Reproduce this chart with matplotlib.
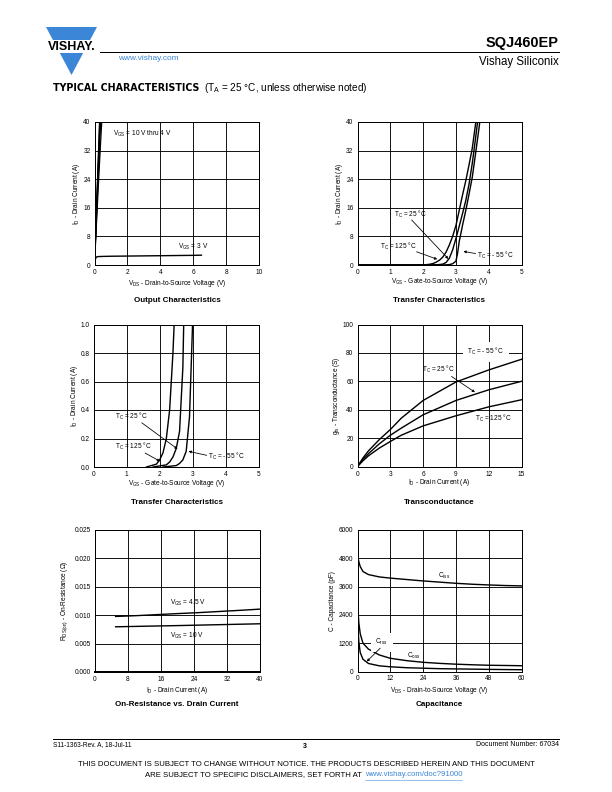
# SQJ460EP typical characteristics page (datasheet p.3)

import matplotlib.pyplot as plt
from matplotlib.patches import Polygon, Rectangle

plt.rcParams['font.family'] = ['Liberation Sans', 'DejaVu Sans']
plt.rcParams['mathtext.fontset'] = 'custom'
plt.rcParams['mathtext.rm'] = 'Liberation Sans'
plt.rcParams['mathtext.it'] = 'Liberation Sans:italic'
plt.rcParams['mathtext.bf'] = 'Liberation Sans:bold'

# Step 1: data

# Output characteristics
vds_out = [0.0, 0.1, 0.2, 0.3, 0.4, 0.5]
id_vgs10 = [0, 13.2, 26.4, 39.5, 52.0, 64.0]
id_vgs7 = [0, 12.6, 25.0, 37.4, 49.5, 61.0]
id_vgs5 = [0, 11.8, 23.4, 34.8, 46.0, 57.0]
id_vgs45 = [0, 11.0, 21.8, 32.4, 42.8, 52.8]
id_vgs4 = [0, 9.6, 19.0, 28.0, 36.6, 44.8]
vds_3v = [0, 0.05, 0.1, 0.2, 0.5, 1, 2, 3, 4, 5, 6, 6.5]
id_vgs3 = [0, 1.5, 2.2, 2.35, 2.4, 2.45, 2.5, 2.55, 2.6, 2.65, 2.7, 2.75]

# Transfer characteristics (same curves used for both scales)
vgs_125 = [0, 1.6, 1.9, 2.0, 2.1, 2.2, 2.3, 2.4, 2.5, 2.6, 2.7, 2.8, 2.9,
           3.0, 3.1, 3.2, 3.3, 3.4, 3.5, 3.6, 3.7]
id_125 = [0, 0, 0.02, 0.05, 0.1, 0.2, 0.4, 0.8, 1.35, 2.2, 3.6, 5.6, 8.0,
          11.0, 15.2, 19.5, 23.5, 28.0, 32.7, 39.5, 46]
vgs_25 = [0, 1.8, 2.2, 2.3, 2.4, 2.5, 2.6, 2.7, 2.8, 2.9, 3.0, 3.1, 3.2,
          3.3, 3.4, 3.5, 3.6, 3.7, 3.8]
id_25 = [0, 0, 0.015, 0.035, 0.07, 0.13, 0.25, 0.7, 1.9, 4.2, 7.4, 10.8,
         14.3, 18.0, 22.6, 28.5, 35.5, 43, 50]
vgs_m55 = [0, 2.1, 2.5, 2.6, 2.7, 2.8, 2.9, 3.0, 3.05, 3.1, 3.2, 3.3, 3.4,
           3.5, 3.6, 3.7, 3.8]
id_m55 = [0, 0, 0.01, 0.025, 0.05, 0.11, 0.35, 1.05, 3.2, 6.5, 11.0, 15.2,
          19.8, 24.6, 31.2, 38.0, 45]

# Transconductance
id_gfs = [0, 0.5, 1, 2, 3, 4, 6, 9, 12, 15]
gfs_m55 = [0, 6, 11, 19, 26, 34, 46.5, 59.5, 68, 75.5]
gfs_25 = [0, 5, 9, 16, 22, 27, 36.4, 46.5, 54, 60]
gfs_125 = [0, 4, 7.5, 13, 17.6, 22, 28.6, 35.7, 42, 47]

# On-resistance vs. drain current
id_rds = [5, 10, 15, 20, 25, 30, 35, 40]
rds_45 = [0.00978, 0.00992, 0.0101, 0.01028, 0.01045, 0.01065, 0.01085, 0.01107]
rds_10 = [0.00796, 0.00803, 0.0081, 0.00817, 0.00825, 0.00833, 0.00841, 0.00849]

# Capacitance
vds_cap = [0.1, 0.5, 1, 2, 4, 8, 12, 18, 24, 30, 36, 42, 48, 54, 60]
ciss = [4900, 4650, 4450, 4240, 4110, 4010, 3960, 3900, 3840, 3790, 3740,
        3700, 3670, 3645, 3630]
coss = [2750, 2050, 1600, 1200, 950, 700, 560, 460, 390, 345, 310, 285,
        265, 255, 245]
crss = [2000, 1250, 800, 520, 340, 240, 200, 160, 140, 120, 110, 100, 90,
        82, 75]

# Step 2: page and helpers (page is 612 x 792 points)
W, H = 612, 792
fig = plt.figure(figsize=(8.5, 11), dpi=72)

page = fig.add_axes([0, 0, 1, 1])
page.set_xlim(0, W)
page.set_ylim(H, 0)
page.axis('off')

BLUE = '#3b86d6'
FS = 6.5


def add_ax(left, top, w, h):
    ax = fig.add_axes([left / W, 1 - (top + h) / H, w / W, h / H])
    ax.grid(True, color='k', lw=0.9)
    ax.set_axisbelow(True)
    ax.tick_params(length=0, labelsize=FS, pad=4)
    for s in ax.spines.values():
        s.set_linewidth(1.0)
    return ax


def label(ax, x, y, txt, **kw):
    ax.text(x, y, txt, fontsize=FS, **kw)


def arrow(ax, x0, y0, x1, y1):
    ax.annotate('', xy=(x1, y1), xytext=(x0, y0),
                arrowprops=dict(arrowstyle='-|>', color='k', lw=0.8,
                                mutation_scale=5, shrinkA=0, shrinkB=0))


def sub(a, b):
    return a + r'$_\mathregular{' + b + '}$'


ID = sub('I', 'D')
VGS = sub('V', 'GS')
VDS = sub('V', 'DS')
TC = sub('T', 'C')

# Step 3: Output characteristics
ax1 = add_ax(94.5, 122, 164.5, 143)
for y in [id_vgs10, id_vgs7, id_vgs5, id_vgs45, id_vgs4]:
    ax1.plot(vds_out, y, color='k', lw=1.2)
ax1.plot(vds_3v, id_vgs3, color='k', lw=1.4)
ax1.set_xlim(0, 10)
ax1.set_ylim(0, 40)
ax1.set_xticks([0, 2, 4, 6, 8, 10])
ax1.set_yticks([0, 8, 16, 24, 32, 40])
ax1.set_xlabel(VDS + ' - Drain-to-Source Voltage (V)', fontsize=FS, labelpad=2)
ax1.set_ylabel(ID + ' - Drain Current (A)', fontsize=FS, labelpad=1)
label(ax1, 1.1, 36.2, VGS + ' = 10 V thru 4 V')
label(ax1, 5.1, 4.4, VGS + ' = 3 V')

# Step 4: Transfer characteristics (0 - 40 A)
ax2 = add_ax(357.5, 122, 164, 143)
for x, y in [(vgs_125, id_125), (vgs_25, id_25), (vgs_m55, id_m55)]:
    ax2.plot(x, y, color='k', lw=1.4)
ax2.set_xlim(0, 5)
ax2.set_ylim(0, 40)
ax2.set_xticks([0, 1, 2, 3, 4, 5])
ax2.set_yticks([0, 8, 16, 24, 32, 40])
ax2.set_xlabel(VGS + ' - Gate-to-Source Voltage (V)', fontsize=FS, labelpad=0)
ax2.set_ylabel(ID + ' - Drain Current (A)', fontsize=FS, labelpad=1)
label(ax2, 1.12, 13.4, TC + ' = 25 °C')
arrow(ax2, 1.65, 12.6, 2.77, 1.7)
label(ax2, 0.69, 4.4, TC + ' = 125 °C')
arrow(ax2, 1.8, 3.7, 2.43, 1.6)
label(ax2, 3.63, 2.0, TC + ' = - 55 °C')
arrow(ax2, 3.6, 3.2, 3.23, 3.8)

# Step 5: Transfer characteristics (0 - 1 A)
ax3 = add_ax(93.5, 324.5, 165.5, 142.5)
for x, y in [(vgs_125, id_125), (vgs_25, id_25), (vgs_m55, id_m55)]:
    ax3.plot(x[1:], y[1:], color='k', lw=1.4)
ax3.set_xlim(0, 5)
ax3.set_ylim(0, 1.0)
ax3.set_xticks([0, 1, 2, 3, 4, 5])
ax3.set_yticks([0, 0.2, 0.4, 0.6, 0.8, 1.0])
ax3.set_yticklabels(['0.0', '0.2', '0.4', '0.6', '0.8', '1.0'])
ax3.set_xlabel(VGS + ' - Gate-to-Source Voltage (V)', fontsize=FS, labelpad=0)
ax3.set_ylabel(ID + ' - Drain Current (A)', fontsize=FS, labelpad=1)
label(ax3, 0.65, 0.335, TC + ' = 25 °C')
arrow(ax3, 1.46, 0.31, 2.54, 0.126)
label(ax3, 0.65, 0.125, TC + ' = 125 °C')
arrow(ax3, 1.56, 0.098, 2.01, 0.04)
label(ax3, 3.47, 0.055, TC + ' = - 55 °C')
arrow(ax3, 3.42, 0.082, 2.87, 0.11)

# Step 6: Transconductance
ax4 = add_ax(357.5, 324.5, 164, 142)
for y in [gfs_m55, gfs_25, gfs_125]:
    ax4.plot(id_gfs, y, color='k', lw=1.4)
ax4.set_xlim(0, 15)
ax4.set_ylim(0, 100)
ax4.set_xticks([0, 3, 6, 9, 12, 15])
ax4.set_yticks([0, 20, 40, 60, 80, 100])
ax4.set_xlabel(ID + ' - Drain Current (A)', fontsize=FS, labelpad=0)
ax4.set_ylabel(sub('g', 'fs') + ' - Transconductance (S)', fontsize=FS,
               labelpad=1)
label(ax4, 10.0, 79.5, TC + ' = - 55 °C', backgroundcolor='white')
label(ax4, 5.87, 66.5, TC + ' = 25 °C')
arrow(ax4, 8.6, 63.4, 10.74, 52.3)
label(ax4, 10.74, 32.5, TC + ' = 125 °C')

# Step 7: On-resistance vs. drain current
ax5 = add_ax(95, 530, 165, 142)
ax5.plot(id_rds, rds_45, color='k', lw=1.4)
ax5.plot(id_rds, rds_10, color='k', lw=1.4)
ax5.set_xlim(0, 40)
ax5.set_ylim(0, 0.025)
ax5.set_xticks([0, 8, 16, 24, 32, 40])
ax5.set_yticks([0, 0.005, 0.010, 0.015, 0.020, 0.025])
ax5.set_yticklabels(['0.000', '0.005', '0.010', '0.015', '0.020', '0.025'])
ax5.spines['bottom'].set_linewidth(2.0)
ax5.set_xlabel(ID + ' - Drain Current (A)', fontsize=FS, labelpad=2)
ax5.set_ylabel(sub('R', 'DS(on)') + ' - On-Resistance (Ω)', fontsize=FS,
               labelpad=5)
label(ax5, 18.2, 0.0118, VGS + ' = 4.5 V')
label(ax5, 18.2, 0.006, VGS + ' = 10 V')

# Step 8: Capacitance
ax6 = add_ax(357.5, 530, 164, 141.5)
for y in [ciss, coss, crss]:
    ax6.plot(vds_cap, y, color='k', lw=1.4)
ax6.set_xlim(0, 60)
ax6.set_ylim(0, 6000)
ax6.set_xticks([0, 12, 24, 36, 48, 60])
ax6.set_yticks([0, 1200, 2400, 3600, 4800, 6000])
ax6.set_xlabel(VDS + ' - Drain-to-Source Voltage (V)', fontsize=FS, labelpad=2)
ax6.set_ylabel('C - Capacitance (pF)', fontsize=FS, labelpad=3)
label(ax6, 29.6, 3980, sub('C', 'iss'))
label(ax6, 18.2, 600, sub('C', 'oss'))
label(ax6, 6.4, 1160, sub('C', 'rss'), backgroundcolor='white')
arrow(ax6, 8.3, 988, 3.4, 424)

# Step 9: chart titles under each plot
titles = ['Output Characteristics', 'Transfer Characteristics',
          'Transfer Characteristics', 'Transconductance',
          'On-Resistance vs. Drain Current', 'Capacitance']
title_x = [177, 439, 177, 439, 177, 439]
title_y = [299, 299, 501, 501, 703, 703]
for t, x, y in zip(titles, title_x, title_y):
    page.text(x, y + 1.5, t, fontsize=8, fontweight='bold', ha='center',
              va='center')

# Step 10: header
page.add_patch(Polygon([[46, 27], [97, 27], [71.5, 75]], closed=True,
                       color=BLUE, lw=0))
page.add_patch(Rectangle((40, 40), 60, 12.5, color='white', lw=0))
page.text(72, 46.5, 'VISHAY.', fontsize=12.5, fontweight='bold', ha='center',
          va='center')
page.plot([100, 559], [52, 52], color='k', lw=1.0)
page.text(559, 42.5, 'SQJ460EP', fontsize=14.5, fontweight='bold', ha='right',
          va='center')
page.text(559, 62, 'Vishay Siliconix', fontsize=11.5, ha='right', va='center')
page.text(118, 59, 'www.vishay.com', fontsize=8.3, color=BLUE, va='center')
page.text(53, 88, 'TYPICAL CHARACTERISTICS', fontsize=9.5, fontweight='bold',
          family='DejaVu Sans', va='center')
page.text(204, 88, '(' + sub('T', 'A') + ' = 25 °C, unless otherwise noted)',
          fontsize=10, va='center')

# Step 11: footer
page.plot([53, 559], [739, 739], color='k', lw=1.0)
page.text(53, 745, 'S11-1363-Rev. A, 18-Jul-11', fontsize=6.5, va='center')
page.text(305, 746, '3', fontsize=7, fontweight='bold', ha='center',
          va='center')
page.text(559, 745, 'Document Number: 67034', fontsize=7, ha='right',
          va='center')
page.text(306, 765, 'THIS DOCUMENT IS SUBJECT TO CHANGE WITHOUT NOTICE. '
          'THE PRODUCTS DESCRIBED HEREIN AND THIS DOCUMENT', fontsize=7.8,
          ha='center', va='center')
page.text(364, 775, 'ARE SUBJECT TO SPECIFIC DISCLAIMERS, SET FORTH AT ',
          fontsize=7.8, ha='right', va='center')
page.text(365, 775, 'www.vishay.com/doc?91000', fontsize=7.8,
          color=BLUE, va='center')
page.plot([365, 462], [779.5, 779.5], color=BLUE, lw=0.5)

plt.savefig('out.png', dpi=72)
